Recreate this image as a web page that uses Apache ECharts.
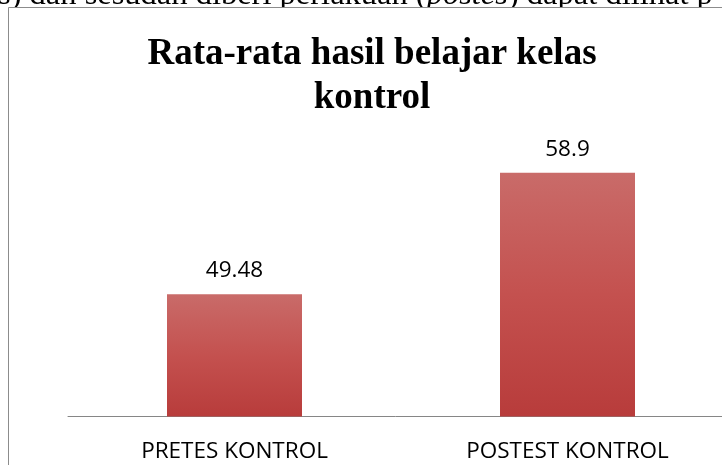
<!DOCTYPE html>
<html><head><meta charset="utf-8">
<script src="https://cdn.jsdelivr.net/npm/echarts@6/dist/echarts.min.js"></script>
<style>html,body{margin:0;padding:0;background:#fff}#c{width:722px;height:465px}</style>
</head><body><div id="c"></div>
<script>
const categories = ['PRETES KONTROL', 'POSTEST KONTROL'];
const values = [49.48, 58.9];
const titleText = 'Rata-rata hasil belajar kelas\nkontrol';
const docTextA = 's) dan sesudah diberi perlakuan (';
const docTextB = 'postes';
const docTextC = ') dapat dilihat p';
const yMin = 40, yMax = 60;

const chart = echarts.init(document.getElementById('c'), null, {renderer: 'canvas'});
chart.setOption({
  animation: false,
  backgroundColor: '#fff',
  graphic: [
    { type: 'text', silent: true, x: -2, y: -21, z: 0,
      style: { text: '{n|' + docTextA + '}{i|' + docTextB + '}{n|' + docTextC + '}',
        verticalAlign: 'top',
        rich: { n: {fontFamily: 'Liberation Serif', fontSize: 32.5, fill: '#000'},
                i: {fontFamily: 'Liberation Serif', fontStyle: 'italic', fontSize: 32.5, fill: '#000'} } } },
    { type: 'rect', silent: true, z: 1, shape: {x: 8.5, y: 7.5, width: 800, height: 600},
      style: {fill: '#fff', stroke: '#8c8c8c', lineWidth: 1} },
    { type: 'text', silent: true, x: 372, y: 32, z: 2,
      style: { text: titleText, align: 'center', verticalAlign: 'top',
        fontFamily: 'Liberation Serif', fontWeight: 'bold', fontSize: 37, lineHeight: 44, fill: '#000' } }
  ],
  grid: {left: 68, right: -12, top: 158.5, bottom: 48.5, outerBoundsMode: 'none', containLabel: false},
  xAxis: {
    type: 'category', data: categories, z: 5,
    axisLine: {lineStyle: {color: '#868686', width: 1}},
    axisTick: {show: false},
    axisLabel: {fontFamily: 'Open Sans', fontSize: 22.5, color: '#000', margin: 24}
  },
  yAxis: {type: 'value', min: yMin, max: yMax, show: false, splitLine: {show: false}},
  series: [{
    type: 'bar', data: values, barWidth: 135, z: 5,
    itemStyle: {color: new echarts.graphic.LinearGradient(0, 0, 0, 1, [
      {offset: 0, color: '#C96B69'}, {offset: 0.5, color: '#C4514F'}, {offset: 1, color: '#B83C3B'}])},
    label: {show: true, position: 'top', distance: 12, fontFamily: 'Open Sans', fontSize: 22.5, color: '#000'}
  }]
});
</script></body></html>
